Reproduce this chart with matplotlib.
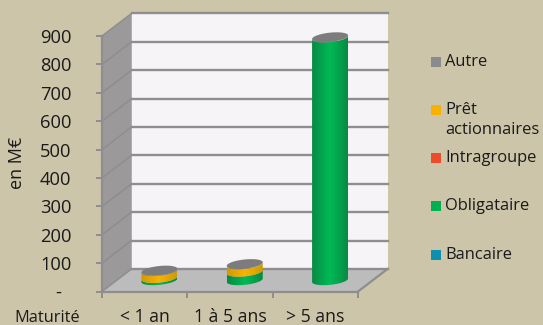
import numpy as np
import matplotlib
matplotlib.use("Agg")
import matplotlib.pyplot as plt
from matplotlib.patches import Polygon, Rectangle
from matplotlib.colors import LinearSegmentedColormap

categories = ["< 1 an", "1 à 5 ans", "> 5 ans"]
bancaire = [0, 0, 0]
obligataire = [8, 30, 855]
intragroupe = [0, 0, 0]
pret = [24, 26, 0]
autre = [2, 1, 1]
yticks = [0, 100, 200, 300, 400, 500, 600, 700, 800, 900]
ytick_labels = ["-\u00a0\u00a0", "100", "200", "300", "400", "500", "600", "700", "800", "900"]
legend_labels = ["Autre", "Prêt\nactionnaires", "Intragroupe", "Obligataire", "Bancaire"]
legend_colors = ["#8b8b8d", "#f7b100", "#ee4b2b", "#00b050", "#0f8fb0"]

BG = "#cdc5a9"
GRID = "#8e8e8e"
plt.rcParams["font.family"] = ["Open Sans", "DejaVu Sans"]
W, H = 543, 325
fig = plt.figure(figsize=(W / 100, H / 100), dpi=100, facecolor=BG)
L, R, B, T = 102, 358, 291.5, 36
ax = fig.add_axes([L / W, 1 - B / H, (R - L) / W, (B - T) / H])
ax.patch.set_visible(False)
ax.set_xlim(0, 3)
ax.set_ylim(0, 900)
ux = (R - L) / 3            # px per category
uy = (B - T) / 900          # px per value unit
dx, dy = 29.5 / ux, 22.5 / uy   # depth offset in data units


def poly(pts, **kw):
    p = Polygon(pts, closed=True, clip_on=False, **kw)
    ax.add_patch(p)
    return p


# walls and floor
poly([(0, 0), (dx, dy), (dx, 900 + dy), (0, 900)], fc="#9b999a", ec="none", zorder=1)
poly([(dx, dy), (3 + dx, dy), (3 + dx, 900 + dy), (dx, 900 + dy)], fc="#f6f4f6", ec="none", zorder=1)
poly([(0, 0), (3, 0), (3 + dx, dy), (dx, dy)], fc="#bcbcbc", ec="none", zorder=1)
for v in yticks:
    ax.plot([0, dx], [v, v + dy], color=GRID, lw=1.1, clip_on=False, zorder=2)
    ax.plot([dx, 3 + dx], [v + dy, v + dy], color=GRID, lw=1.7, clip_on=False, zorder=2)
ax.plot([3, 3 + dx], [0, dy], color=GRID, lw=1.6, clip_on=False, zorder=2)

# cylinders
series = [(bancaire, 3), (obligataire, 1), (intragroupe, 2), (pret, 0), (autre, 4)]
shades = {
    0: ("#d09a00", "#f9b400"),
    1: ("#088a44", "#00bb56"),
    2: ("#a83015", "#ee4b2b"),
    3: ("#0a6a85", "#0f8fb0"),
    4: ("#6a6a6a", "#8a8a8a"),
}
A = 18 / ux        # half-width
Bh = 4.6 / uy      # half-height of ellipse
TILT = 1.8 / uy    # right side rises
ts = np.linspace(0, np.pi, 60)


def lower_arc(cx, v):
    # from the right edge, through the front, to the left edge
    return np.c_[cx + A * np.cos(ts), v - Bh * np.sin(ts) + TILT * np.cos(ts)]


zo = 5
for i in range(len(categories)):
    cx = i + 0.5 + dx / 2
    base0 = dy / 2
    total = 0
    for vals, key in series:
        v = vals[i]
        if v <= 0:
            continue
        lo = lower_arc(cx, base0 + total)
        hi = lower_arc(cx, base0 + total + v)
        pts = np.vstack([hi, lo[::-1]])
        clip = poly(pts, fc="none", ec="none", zorder=zo)
        cmap = LinearSegmentedColormap.from_list("c", [shades[key][0], shades[key][1], shades[key][0]])
        grad = np.linspace(0, 1, 128)[None, :]
        im = ax.imshow(grad, cmap=cmap, aspect="auto", zorder=zo,
                       extent=[cx - A, cx + A, base0 + total - Bh - TILT, base0 + total + v + Bh + TILT],
                       clip_on=True)
        im.set_clip_path(clip)
        total += v
    t = np.linspace(0, 2 * np.pi, 90)
    top = np.c_[cx + A * np.cos(t), base0 + total + Bh * np.sin(t) + TILT * np.cos(t)]
    poly(top, fc="#7c7c7c", ec="none", zorder=zo + 1)
ax.set_xlim(0, 3)
ax.set_ylim(0, 900)

# axes
for s in ("top", "right"):
    ax.spines[s].set_visible(False)
for s in ("left", "bottom"):
    ax.spines[s].set_color(GRID)
    ax.spines[s].set_linewidth(1.6)
    ax.spines[s].set_zorder(3)
ax.set_yticks(yticks)
ax.set_yticklabels(ytick_labels)
ax.tick_params(axis="y", length=4, width=1.4, color=GRID, pad=18, labelsize=13.2, labelcolor="#1a1a1a")
ax.set_xticks([0, 1, 2, 3])
ax.set_xticklabels([])
ax.set_xticks([0.5, 1.5, 2.5], minor=True)
ax.set_xticklabels(categories, minor=True)
ax.tick_params(axis="x", which="major", length=4, width=1.4, color=GRID)
ax.tick_params(axis="x", which="minor", length=0, pad=12, labelsize=12.7, labelcolor="#1a1a1a")


def fig_text(px, py, s, **kw):
    kw.setdefault("color", "#1a1a1a")
    fig.text(px / W, 1 - py / H, s, **kw)


fig_text(17, 163, "en M€", rotation=90, ha="center", va="center", fontsize=13)
fig_text(47, 318, "Maturité", ha="center", va="center", fontsize=11.8)

# legend
leg_y = [61.5, 110, 158, 206, 255]
for lab, col, y in zip(legend_labels, legend_colors, leg_y):
    fig.patches.append(Rectangle((431 / W, 1 - (y + 5) / H), 10 / W, 10 / H,
                                 transform=fig.transFigure, fc=col, ec="none"))
    fig_text(445, y - 8, lab, ha="left", va="top", fontsize=11.9, linespacing=1.3)

fig.savefig("out.png", dpi=100, facecolor=BG)
